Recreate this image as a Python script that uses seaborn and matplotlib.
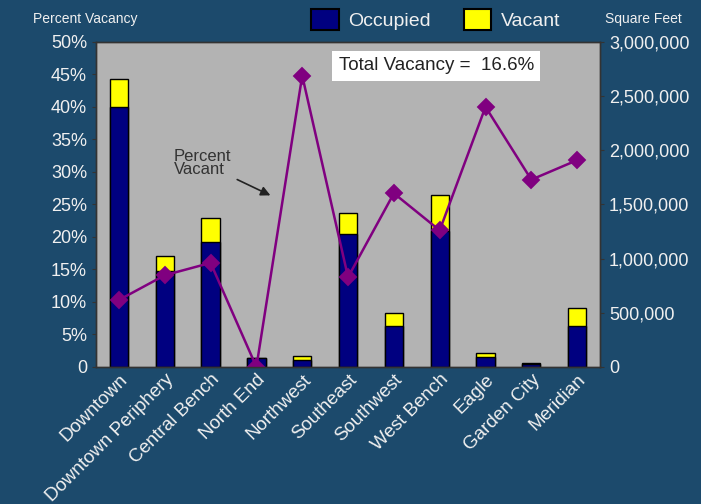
import matplotlib
matplotlib.use("Agg")
import matplotlib.pyplot as plt
import seaborn as sns
from matplotlib.patches import Patch
from matplotlib.ticker import FuncFormatter

# Data
regions = ["Downtown", "Downtown Periphery", "Central Bench", "North End", "Northwest",
           "Southeast", "Southwest", "West Bench", "Eagle", "Garden City", "Meridian"]
occupied_sf = [2400000, 886000, 1157000, 80000, 65000, 1225000, 378000, 1258000, 90000, 30000, 378000]
total_sf = [2658000, 1025000, 1378000, 80000, 101000, 1424000, 501000, 1585000, 132000, 40000, 547000]
pct_vacant = [10.3, 14.1, 16.0, 0.0, 44.8, 13.8, 26.7, 21.0, 40.0, 28.8, 31.8]
pct_ticks = [0, 5, 10, 15, 20, 25, 30, 35, 40, 45, 50]
sf_ticks = [0, 500000, 1000000, 1500000, 2000000, 2500000, 3000000]

sns.set_style("white")
plt.rcParams["font.family"] = ["Liberation Sans", "DejaVu Sans"]

bg = "#1c4a6c"
txt = "#f0f0f0"

fig = plt.figure(figsize=(7.01, 5.04), dpi=100, facecolor=bg)
ax = fig.add_axes([0.137, 0.272, 0.719, 0.645])
ax.set_facecolor("#b3b3b3")

# bars: square feet (right-hand scale)
sns.barplot(x=regions, y=total_sf, color="#ffff00", edgecolor="black", linewidth=1,
            width=0.4, saturation=1, ax=ax)
sns.barplot(x=regions, y=occupied_sf, color="#000080", edgecolor="black", linewidth=1,
            width=0.4, saturation=1, ax=ax)

# line: percent vacant (left-hand scale)
ax2 = ax.twinx()
sns.pointplot(x=regions, y=pct_vacant, color="#800080", markers="D", markersize=8,
              linewidth=1.8, ax=ax2)

ax.set_ylim(0, 3000000)
ax.set_yticks(sf_ticks)
ax.yaxis.tick_right()
ax.yaxis.set_label_position("right")
ax.yaxis.set_major_formatter(FuncFormatter(lambda v, p: "0" if v == 0 else f"{int(v):,}"))

ax2.set_ylim(0, 50)
ax2.set_yticks(pct_ticks)
ax2.yaxis.tick_left()
ax2.yaxis.set_label_position("left")
ax2.yaxis.set_major_formatter(FuncFormatter(lambda v, p: "0" if v == 0 else f"{int(v)}%"))
ax2.set_xlim(-0.5, len(regions) - 0.5)

for a in (ax, ax2):
    a.set_xlabel("")
    a.set_ylabel("")
    for s in a.spines.values():
        s.set_color("#333333")
        s.set_linewidth(1)
    a.tick_params(axis="y", labelcolor=txt, color="#333333", labelsize=13, length=3, width=0.8)

ax.tick_params(axis="x", labelcolor=txt, labelsize=13.5, length=0, pad=3)
for lab in ax.get_xticklabels():
    lab.set_rotation(45)
    lab.set_ha("right")
    lab.set_rotation_mode("anchor")
ax2.tick_params(axis="x", length=0, labelbottom=False)

# axis titles
fig.text(0.122, 0.963, "Percent Vacancy", color=txt, fontsize=10, ha="center", va="center")
fig.text(0.918, 0.963, "Square Feet", color=txt, fontsize=10, ha="center", va="center")

# legend
handles = [Patch(facecolor="#000080", edgecolor="black", linewidth=1.5, label="Occupied"),
           Patch(facecolor="#ffff00", edgecolor="black", linewidth=1.5, label="Vacant")]
fig.legend(handles=handles, loc="center", bbox_to_anchor=(0.622, 0.962), ncol=2,
           frameon=False, fontsize=14, labelcolor=txt, handlelength=1.4, handleheight=1.3,
           columnspacing=1.7, handletextpad=0.5)

# total vacancy box
ax2.text(0.675, 0.926, "Total Vacancy =  16.6%", transform=ax2.transAxes, fontsize=13.5,
         color="#222222", ha="center", va="center",
         bbox=dict(boxstyle="square,pad=0.35", facecolor="white", edgecolor="none"))

# annotation arrow
ax2.annotate("Percent\nVacant", xy=(3.36, 26.2), xytext=(1.2, 29.6),
             fontsize=12, color="#333333", linespacing=0.9,
             arrowprops=dict(arrowstyle="-|>", color="#222222", lw=1.2, mutation_scale=14))

fig.savefig("out.png", dpi=100, facecolor=bg)
